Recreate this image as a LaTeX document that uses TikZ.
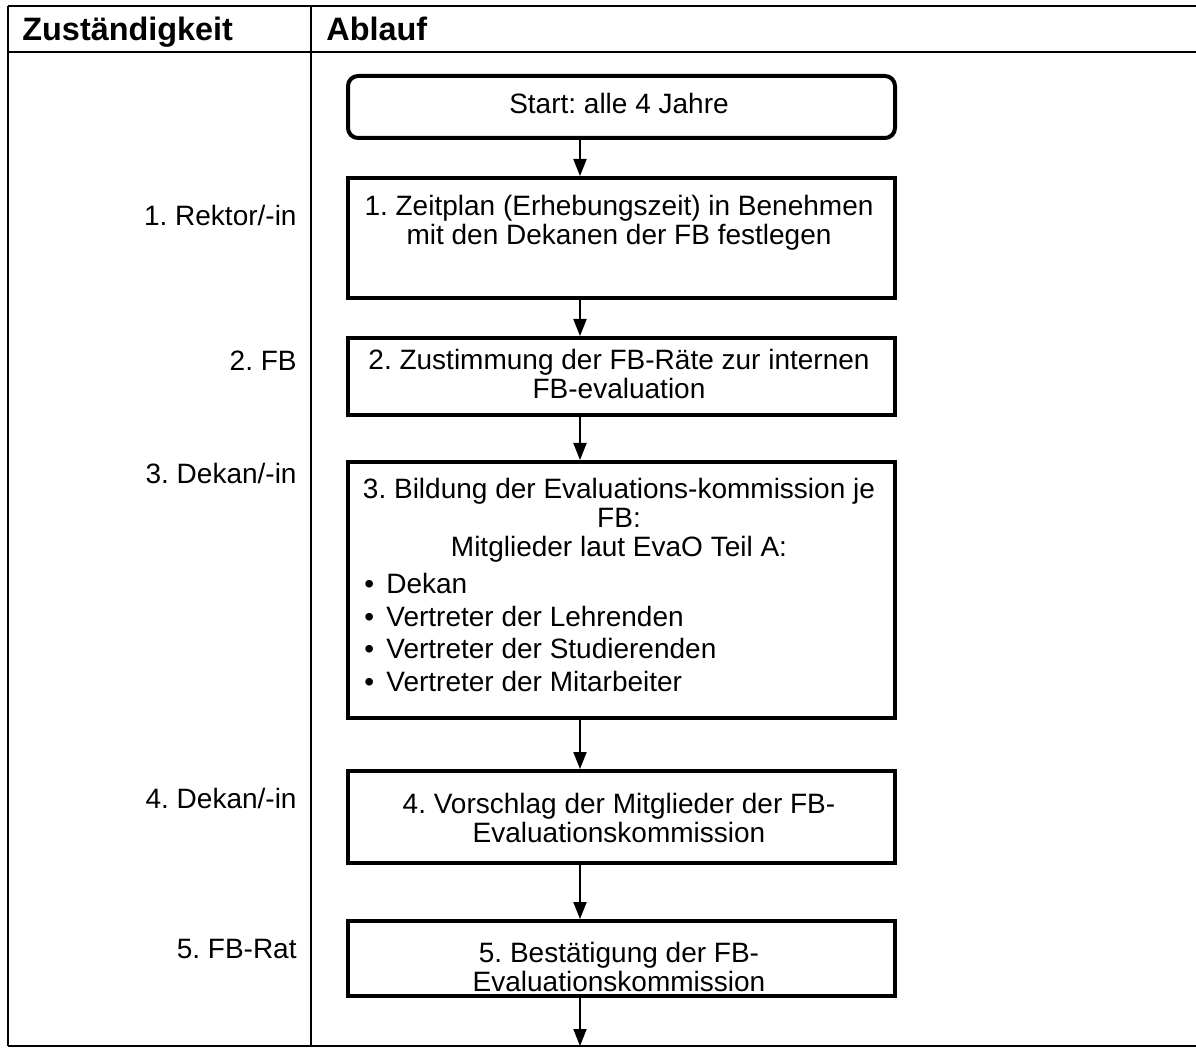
\documentclass[tikz,border=0pt]{standalone}
\usepackage{fontspec}
\setmainfont{Liberation Sans}
\usetikzlibrary{arrows.meta}
\frenchspacing
\begin{document}
\begin{tikzpicture}[x=0.5pt,y=-0.5pt,
  rule/.style={line width=1.1pt},
  stepbox/.style={draw, line width=2pt, rectangle, minimum width=273.5pt,
                  inner sep=0pt, anchor=north west},
  startbox/.style={stepbox, rounded corners=5pt},
  body/.style={font=\fontsize{14}{14.5}\selectfont, inner sep=0pt, align=center},
  head/.style={font=\fontsize{16.2}{18}\selectfont\bfseries, inner sep=0pt, anchor=base west},
  role/.style={font=\fontsize{14}{14.5}\selectfont, inner sep=0pt, anchor=east},
  flow/.style={line width=1pt, -{Triangle[width=6.5pt,length=8.5pt]}}]
\useasboundingbox (0,0) rectangle (1196,1048);

% table frame
\draw[rule, line width=1.4pt] (8,6) -- (1196,6);
\draw[rule, line width=1.4pt] (8,52) -- (1196,52);
\draw[rule] (8,1046) -- (1196,1046);
\draw[rule] (8,6) -- (8,1046);
\draw[rule] (311,6) -- (311,1046);

% column heads
\node[head] (h1) at (22,40.5) {Zuständigkeit};
\node[head] (h2) at (326,40.5) {Ablauf};

% responsibilities
\node[role] (r1) at (297,215) {1. Rektor/-in};
\node[role] (r2) at (297,361) {2. FB};
\node[role] (r3) at (297,473) {3. Dekan/-in};
\node[role] (r4) at (297,798) {4. Dekan/-in};
\node[role] (r5) at (297,949) {5. FB-Rat};

% process boxes
\node[startbox, minimum height=31pt] (s0) at (346,74) {};
\node[stepbox, minimum height=60pt]  (b1) at (346,176) {};
\node[stepbox, minimum height=38.5pt] (b2) at (346,336) {};
\node[stepbox, minimum height=128pt] (b3) at (346,460) {};
\node[stepbox, minimum height=46pt]  (b4) at (346,769) {};
\node[stepbox, minimum height=37.5pt] (b5) at (346,919) {};

% box texts
\node[body] (t0) at (619,103) {Start: alle 4 Jahre};
\node[body] (t1) at (619,222.5) {1. Zeitplan (Erhebungszeit) in Benehmen\\mit den Dekanen der FB festlegen};
\node[body] (t2) at (619,374) {2. Zustimmung der FB-Räte zur internen\\FB-evaluation};
\node[body] (t3) at (619,520.5) {3. Bildung der Evaluations-kommission je\\FB:\\Mitglieder laut EvaO Teil A:};
\node[body, align=left, anchor=west, font=\fontsize{14}{16.2}\selectfont] (t3b) at (364,632.5)
  {\makebox[11pt][l]{•}Dekan\\
   \makebox[11pt][l]{•}Vertreter der Lehrenden\\
   \makebox[11pt][l]{•}Vertreter der Studierenden\\
   \makebox[11pt][l]{•}Vertreter der Mitarbeiter};
\node[body] (t4) at (619,817.5) {4. Vorschlag der Mitglieder der FB-\\Evaluationskommission};
\node[body] (t5) at (619,966.5) {5. Bestätigung der FB-\\Evaluationskommission};

% connectors
\coordinate (ax) at (580,0);
\coordinate (tail) at (580,1046);
\draw[flow] (s0.south -| ax) -- (b1.north -| ax);
\draw[flow] (b1.south -| ax) -- (b2.north -| ax);
\draw[flow] (b2.south -| ax) -- (b3.north -| ax);
\draw[flow] (b3.south -| ax) -- (b4.north -| ax);
\draw[flow] (b4.south -| ax) -- (b5.north -| ax);
\draw[flow] (b5.south -| ax) -- (tail);
\end{tikzpicture}
\end{document}
